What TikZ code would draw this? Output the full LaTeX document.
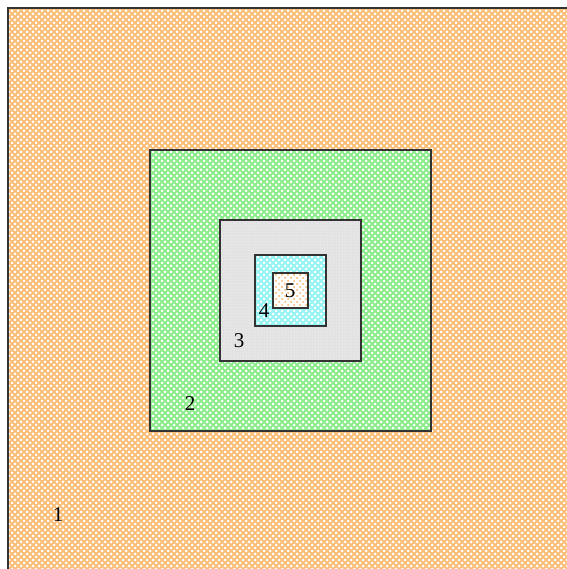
\documentclass[tikz,border=0pt]{standalone}
\usepackage{fontspec}
\setmainfont{Liberation Serif}
\usetikzlibrary{patterns}
\definecolor{orfill}{RGB}{250,190,120}
\definecolor{grfill}{RGB}{140,236,140}
\definecolor{gyfill}{RGB}{226,226,226}
\definecolor{cyfill}{RGB}{150,244,244}
\definecolor{dotor}{RGB}{248,175,100}
\pgfdeclarepatternformonly{bigdots}{\pgfqpoint{-1pt}{-1pt}}{\pgfqpoint{7pt}{7pt}}{\pgfqpoint{6pt}{6pt}}{%
  \pgfpathcircle{\pgfqpoint{0pt}{0pt}}{1.5pt}%
  \pgfpathcircle{\pgfqpoint{3pt}{3pt}}{1.5pt}%
  \pgfusepath{fill}}
\pgfdeclarepatternformonly{sparsedots}{\pgfqpoint{-1pt}{-1pt}}{\pgfqpoint{7pt}{7pt}}{\pgfqpoint{6pt}{6pt}}{%
  \pgfpathcircle{\pgfqpoint{0pt}{0pt}}{1pt}%
  \pgfpathcircle{\pgfqpoint{3pt}{3pt}}{1pt}%
  \pgfusepath{fill}}
\tikzset{
  box/.style={draw=black!80, line width=1.3pt},
  lab/.style={font=\fontsize{21}{21}\selectfont, inner sep=0pt},
  whitedots/.style={pattern=bigdots, pattern color=white},
}
\begin{document}
\begin{tikzpicture}[x=1pt,y=-1pt]
\useasboundingbox (0,0) rectangle (566,569);
% region 1
\fill[orfill] (8,8) rectangle (600,600);
\fill[whitedots] (8,8) rectangle (600,600);
\draw[box] (8,600) -- (8,8) -- (600,8);
% region 2
\fill[grfill] (150,150) rectangle (431,431);
\fill[whitedots] (150,150) rectangle (431,431);
\draw[box] (150,150) rectangle (431,431);
% region 3
\fill[gyfill] (220,220) rectangle (361,361);
\fill[pattern=dots, pattern color=white] (220,220) rectangle (361,361);
\draw[box] (220,220) rectangle (361,361);
% region 4
\fill[cyfill] (255,255) rectangle (326,326);
\fill[whitedots] (255,255) rectangle (326,326);
\draw[box] (255,255) rectangle (326,326);
% region 5
\fill[white] (273,273) rectangle (308,308);
\fill[pattern=sparsedots, pattern color=dotor] (273,273) rectangle (308,308);
\draw[box] (273,273) rectangle (308,308);
% labels
\node[lab] (l1) at (58,515) {1};
\node[lab] (l2) at (190,404) {2};
\node[lab] (l3) at (239,341) {3};
\node[lab] (l4) at (264,311) {4};
\node[lab] (l5) at (290,291) {5};
\end{tikzpicture}
\end{document}
